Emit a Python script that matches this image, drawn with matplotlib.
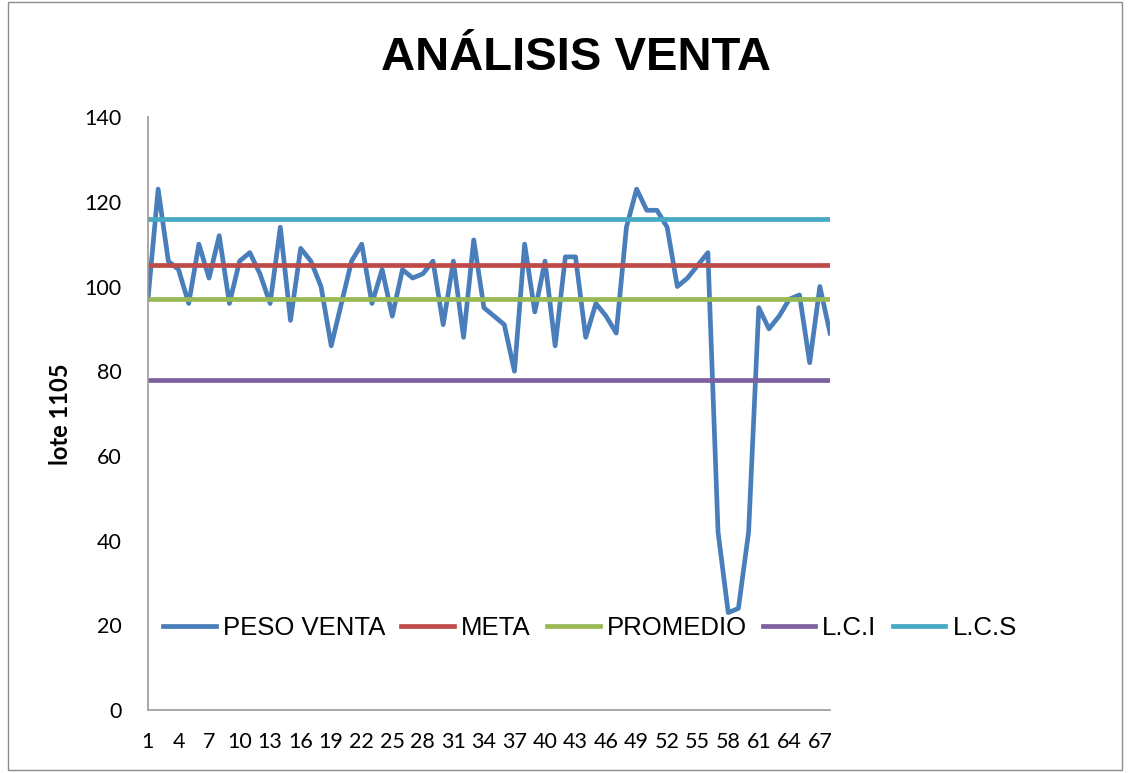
import matplotlib
matplotlib.use("Agg")
import matplotlib.pyplot as plt
from matplotlib.patches import Rectangle

# datos
lote = list(range(1, 69))
peso_venta = [97, 123, 106, 104, 96, 110, 102, 112, 96, 106,
              108, 103, 96, 114, 92, 109, 106, 100, 86, 96,
              106, 110, 96, 104, 93, 104, 102, 103, 106, 91,
              106, 88, 111, 95, 93, 91, 80, 110, 94, 106,
              86, 107, 107, 88, 96, 93, 89, 114, 123, 118,
              118, 114, 100, 102, 105, 108, 42, 23, 24, 42,
              95, 90, 93, 97, 98, 82, 100, 89]
meta = 105
promedio = 97
lci = 78
lcs = 116
yticks = [0, 20, 40, 60, 80, 100, 120, 140]
xticks = lote[::3]

fig = plt.figure(figsize=(11.33, 7.73), dpi=100)
ax = fig.add_axes([0.1306, 0.0815, 0.602, 0.767])

n = len(lote)
ax.plot(lote, peso_venta, color="#4A7EBB", lw=3.4, label="PESO VENTA")
ax.plot(lote, [meta] * n, color="#BE4B48", lw=3.4, label="META")
ax.plot(lote, [promedio] * n, color="#98B954", lw=3.4, label="PROMEDIO")
ax.plot(lote, [lci] * n, color="#7D60A0", lw=3.4, label="L.C.I")
ax.plot(lote, [lcs] * n, color="#46AAC5", lw=3.4, label="L.C.S")

ax.set_xlim(1, 68)
ax.set_ylim(0, 140)
ax.set_yticks(yticks)
ax.set_xticks(xticks)
ax.tick_params(length=0, labelsize=15.5)
ax.tick_params(axis="y", pad=19)
ax.tick_params(axis="x", pad=16)
for lab in ax.get_xticklabels() + ax.get_yticklabels():
    lab.set_family("Lato")

for s in ["top", "right"]:
    ax.spines[s].set_visible(False)
for s in ["left", "bottom"]:
    ax.spines[s].set_color("#9a9a9a")
    ax.spines[s].set_linewidth(1.2)

fig.text(0.053, 0.464, "lote 1105", rotation=90, ha="center", va="center",
         fontsize=17, fontweight="bold", family="Lato")

fig.text(0.508, 0.91, "ANÁLISIS VENTA", ha="center", va="baseline",
         fontsize=34, fontweight="bold", family="Liberation Sans")

fig.legend(loc="center left", bbox_to_anchor=(0.135, 0.1876), ncol=5,
           frameon=False, handlelength=2.05, handletextpad=0.27,
           columnspacing=0.63, borderaxespad=0,
           prop={"family": "Liberation Sans", "size": 18.5})

fig.patches.append(Rectangle((0.007, 0.004), 0.983, 0.994, transform=fig.transFigure,
                             fill=False, edgecolor="#8c8c8c", lw=1))

fig.savefig("out.png", dpi=100)
